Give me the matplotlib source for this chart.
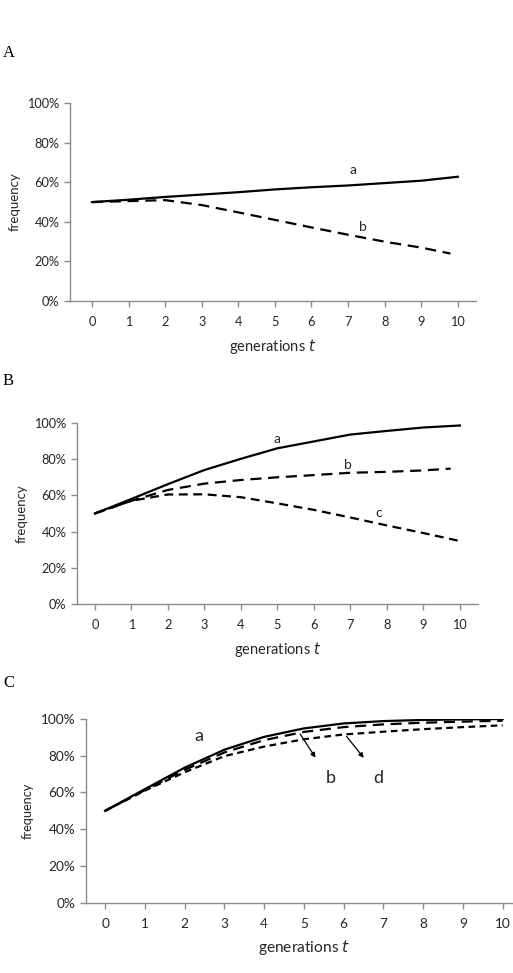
import matplotlib
matplotlib.use("Agg")
import matplotlib.pyplot as plt

# generations on the x axis
gens = list(range(11))
y_ticks = [0, 20, 40, 60, 80, 100]

# panel A
a_A = [50, 51.2, 52.6, 53.8, 55.0, 56.4, 57.5, 58.4, 59.6, 60.8, 62.8]
b_A = [50, 50.5, 51.0, 48.5, 44.8, 41.0, 37.2, 33.5, 30.0, 27.0, 23.5]

# panel B
a_B = [50, 58.0, 66.2, 74.0, 80.2, 86.0, 89.8, 93.6, 95.6, 97.5, 98.6]
b_B = [50, 57.0, 63.0, 66.5, 68.5, 70.0, 71.2, 72.5, 73.0, 73.8, 75.0]
c_B = [50, 57.0, 60.5, 60.6, 59.0, 55.6, 52.0, 47.8, 43.4, 39.2, 34.8]

# panel C
a_C = [50, 61.8, 73.5, 83.3, 90.3, 94.9, 97.6, 98.9, 99.5, 99.8, 100]
b_C = [50, 61.3, 72.3, 81.8, 88.5, 93.0, 95.6, 97.1, 98.0, 98.6, 99.1]
d_C = [50, 61.0, 71.0, 79.8, 85.0, 89.0, 91.6, 93.1, 94.5, 95.6, 96.6]

plt.rcParams["font.family"] = ["Lato", "DejaVu Sans"]
grey = "#8c8c8c"
txt = "#262626"

fig = plt.figure(figsize=(5.13, 9.73), dpi=100)


def style_axes(ax, xlim, tick_fs, ylab_fs, xlab_fs):
    ax.set_xlim(*xlim)
    ax.set_ylim(0, 100)
    ax.set_xticks(gens)
    ax.set_yticks(y_ticks)
    ax.set_yticklabels([f"{v}%" for v in y_ticks])
    for s in ["top", "right"]:
        ax.spines[s].set_visible(False)
    for s in ["left", "bottom"]:
        ax.spines[s].set_color(grey)
        ax.spines[s].set_linewidth(1.0)
    ax.tick_params(axis="both", colors=grey, labelcolor=txt, labelsize=tick_fs,
                   length=4, width=1.0)
    ax.tick_params(axis="x", pad=7)
    ax.set_ylabel("frequency", fontsize=ylab_fs, color=txt, labelpad=5)
    ax.set_xlabel("generations $\\it{t}$", fontsize=xlab_fs, color=txt, labelpad=6)


# ---- A
axA = fig.add_axes([0.1365, 0.6906, 0.7915, 0.2034])
axA.plot(gens, a_A, color="black", lw=1.6)
axA.plot(gens[:-1] + [9.8], b_A[:-1] + [24.0], color="black", lw=1.6, dashes=(5, 3))
axA.text(7.13, 66.2, "a", fontsize=10, color=txt, ha="center", va="center")
axA.text(7.4, 37.2, "b", fontsize=10, color=txt, ha="center", va="center")
style_axes(axA, (-0.6, 10.5), 9.2, 9.5, 10.5)

# ---- B
axB = fig.add_axes([0.150, 0.3792, 0.782, 0.1861])
axB.plot(gens, a_B, color="black", lw=1.6)
axB.plot(gens[:-1] + [9.75], b_B[:-1] + [74.8], color="black", lw=1.6, dashes=(5, 3))
axB.plot(gens, c_B, color="black", lw=1.6, dashes=(4, 2.5))
axB.text(4.98, 91.1, "a", fontsize=10, color=txt, ha="center", va="center")
axB.text(6.93, 76.9, "b", fontsize=10, color=txt, ha="center", va="center")
axB.text(7.78, 50.2, "c", fontsize=10, color=txt, ha="center", va="center")
style_axes(axB, (-0.49, 10.5), 9.2, 9.5, 10.5)

# ---- C
axC = fig.add_axes([0.1676, 0.0723, 0.851, 0.1887])
axC.plot(gens, a_C, color="black", lw=1.6)
axC.plot(gens, b_C, color="black", lw=1.6, dashes=(5, 3))
axC.plot(gens, d_C, color="black", lw=1.6, dashes=(3, 2))
axC.text(2.37, 90.9, "a", fontsize=13, color=txt, ha="center", va="center")
axC.text(5.67, 68.0, "b", fontsize=13, color=txt, ha="center", va="center")
axC.text(6.87, 68.0, "d", fontsize=13, color=txt, ha="center", va="center")
for x0, y0, x1, y1 in [(4.87, 93.1, 5.33, 77.7), (6.03, 91.7, 6.55, 77.7)]:
    axC.annotate("", xy=(x1, y1), xytext=(x0, y0),
                 arrowprops=dict(arrowstyle="-|>", color="black", lw=0.9,
                                 mutation_scale=7))
style_axes(axC, (-0.48, 10.5), 9.8, 9.2, 11.2)

# panel letters
for lab, ypix in [("A", 53), ("B", 381), ("C", 683)]:
    fig.text(3 / 513, 1 - ypix / 973, lab, family="Liberation Serif",
             fontsize=12, va="center", ha="left", color="black")

fig.savefig("out.png", dpi=100)
